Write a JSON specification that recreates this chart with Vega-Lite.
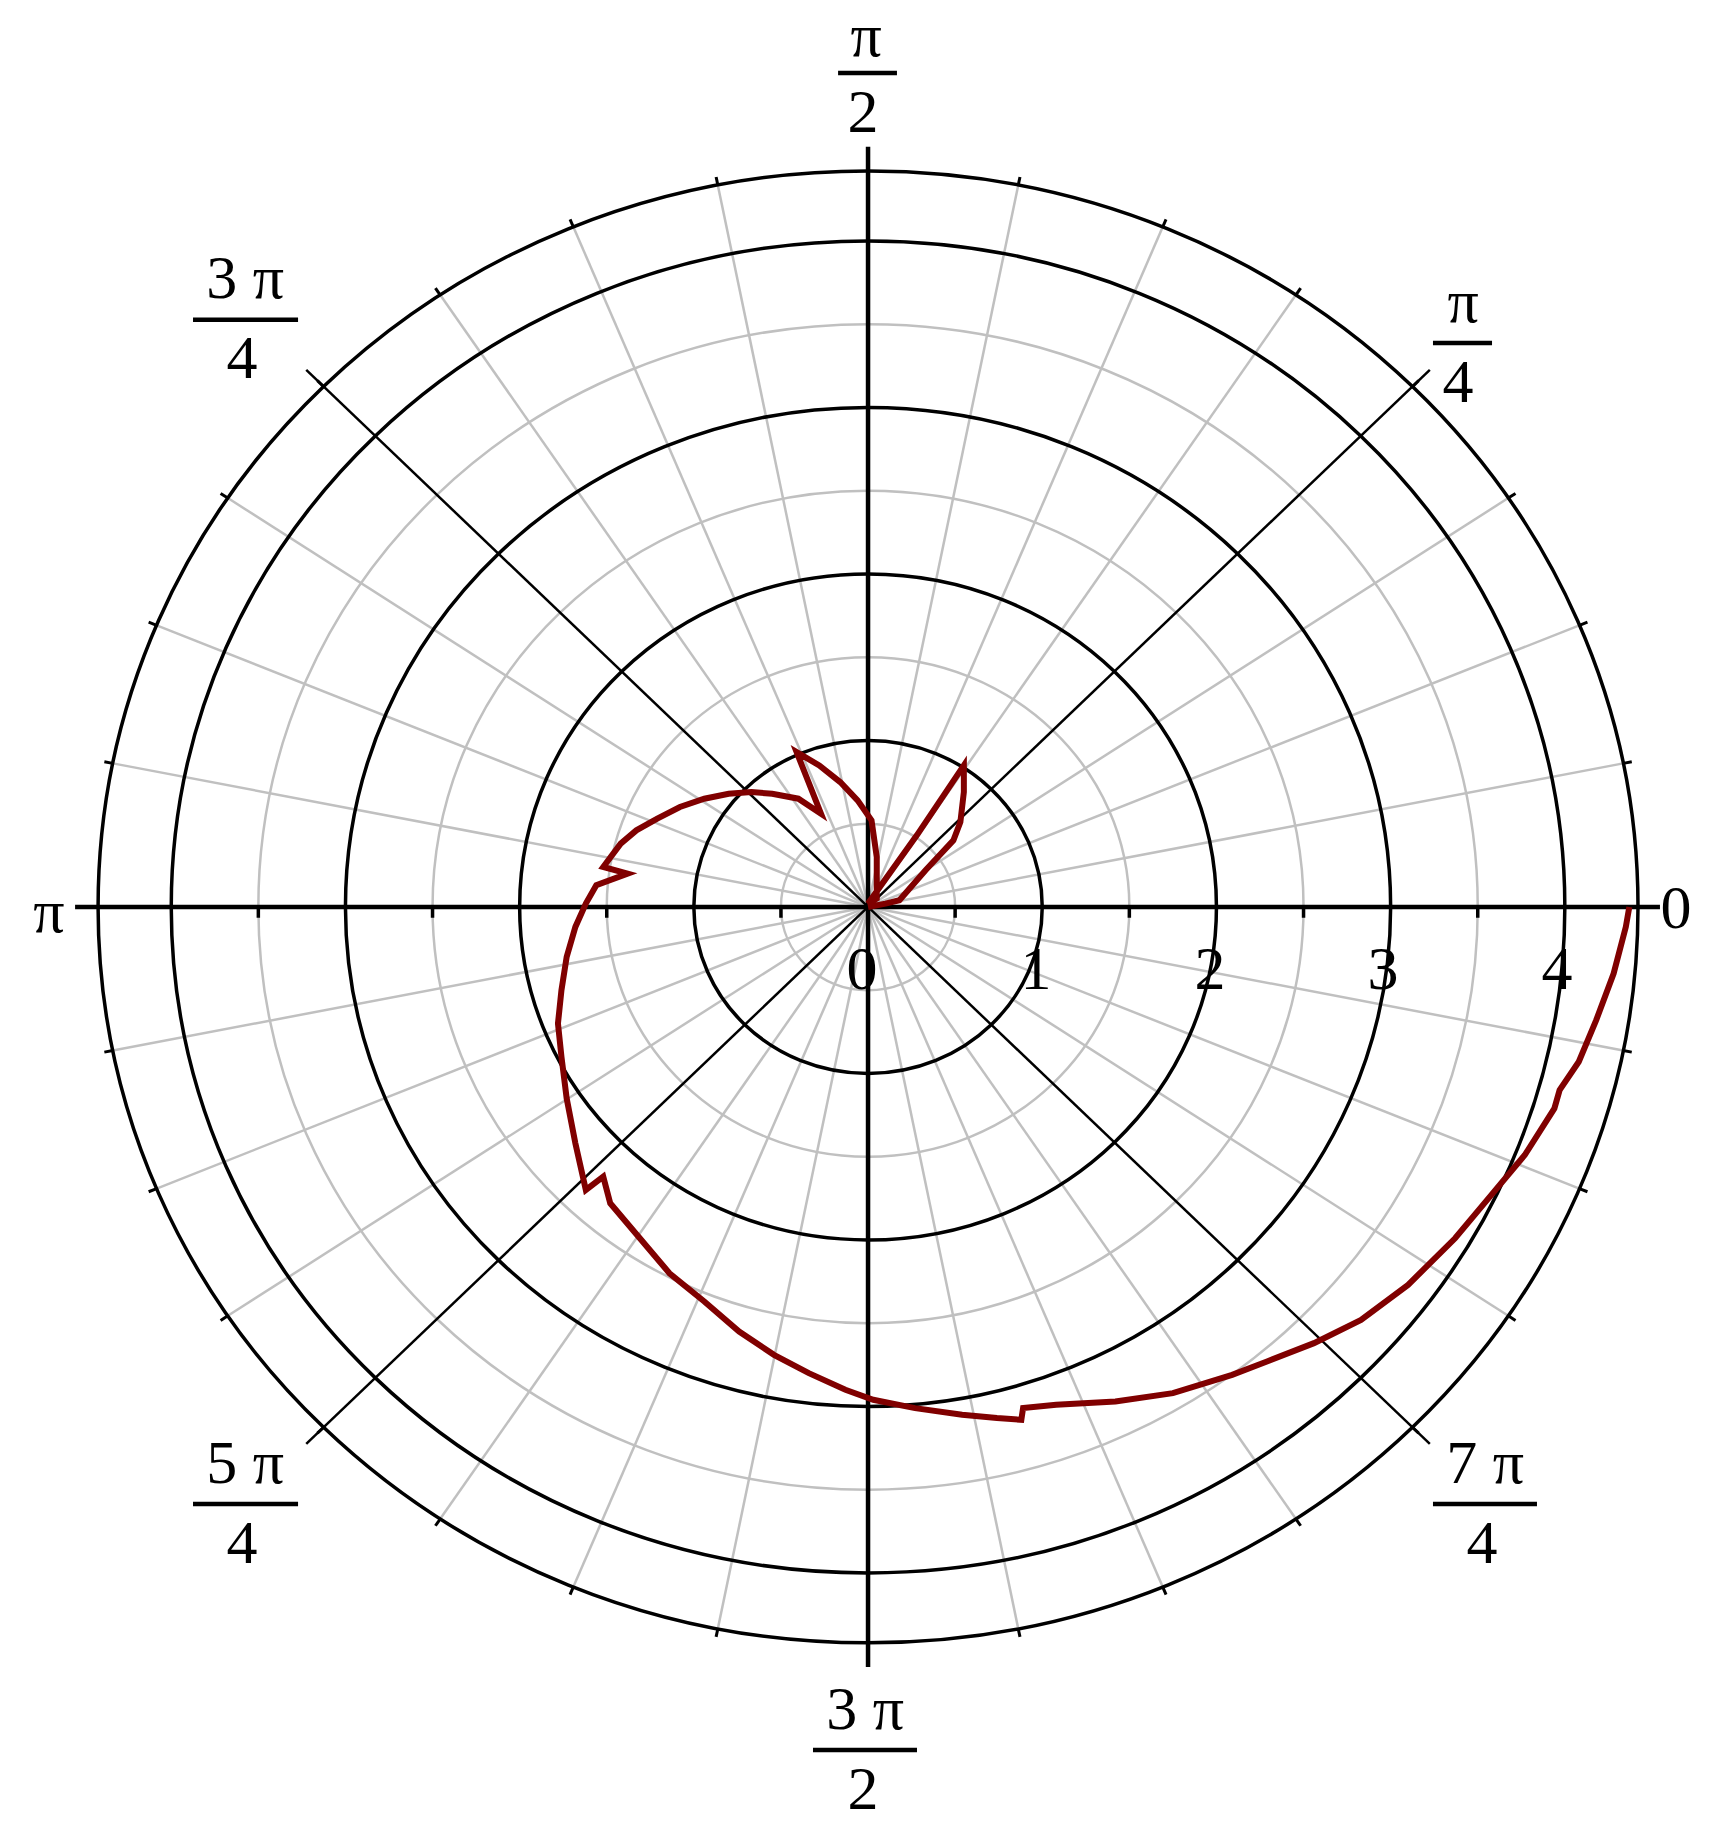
{
 "$schema": "https://vega.github.io/schema/vega-lite/v6.json",
 "width": 1711, "height": 1840,
 "autosize": {"type": "fit", "contains": "padding"},
 "padding": 0,
 "background": "white",
 "config": {"view": {"stroke": null}},
 "datasets": {
  "gcirc": [{"r": 0.5, "cx": 0, "cy": 0}, {"r": 1.5, "cx": 0, "cy": 0}, {"r": 2.5, "cx": 0, "cy": 0}, {"r": 3.5, "cx": 0, "cy": 0}],
  "bcirc": [{"r": 1, "cx": 0, "cy": 0}, {"r": 2, "cx": 0, "cy": 0}, {"r": 3, "cx": 0, "cy": 0}, {"r": 4, "cx": 0, "cy": 0}, {"r": 4.42, "cx": 0, "cy": 0}],
  "ang": [
   {"zx": 0, "zy": 0, "ix": 4.42, "iy": 0, "ox": 4.47, "oy": 0, "m": true},
   {"zx": 0, "zy": 0, "ix": 4.3351, "iy": 0.8623, "ox": 4.3841, "oy": 0.8721, "m": false},
   {"zx": 0, "zy": 0, "ix": 4.0835, "iy": 1.6914, "ox": 4.1297, "oy": 1.7106, "m": false},
   {"zx": 0, "zy": 0, "ix": 3.6751, "iy": 2.4556, "ox": 3.7167, "oy": 2.4834, "m": false},
   {"zx": 0, "zy": 0, "ix": 3.1254, "iy": 3.1254, "ox": 3.1608, "oy": 3.1608, "m": true},
   {"zx": 0, "zy": 0, "ix": 2.4556, "iy": 3.6751, "ox": 2.4834, "oy": 3.7167, "m": false},
   {"zx": 0, "zy": 0, "ix": 1.6914, "iy": 4.0835, "ox": 1.7106, "oy": 4.1297, "m": false},
   {"zx": 0, "zy": 0, "ix": 0.8623, "iy": 4.3351, "ox": 0.8721, "oy": 4.3841, "m": false},
   {"zx": 0, "zy": 0, "ix": 0, "iy": 4.42, "ox": 0, "oy": 4.47, "m": true},
   {"zx": 0, "zy": 0, "ix": -0.8623, "iy": 4.3351, "ox": -0.8721, "oy": 4.3841, "m": false},
   {"zx": 0, "zy": 0, "ix": -1.6914, "iy": 4.0835, "ox": -1.7106, "oy": 4.1297, "m": false},
   {"zx": 0, "zy": 0, "ix": -2.4556, "iy": 3.6751, "ox": -2.4834, "oy": 3.7167, "m": false},
   {"zx": 0, "zy": 0, "ix": -3.1254, "iy": 3.1254, "ox": -3.1608, "oy": 3.1608, "m": true},
   {"zx": 0, "zy": 0, "ix": -3.6751, "iy": 2.4556, "ox": -3.7167, "oy": 2.4834, "m": false},
   {"zx": 0, "zy": 0, "ix": -4.0835, "iy": 1.6914, "ox": -4.1297, "oy": 1.7106, "m": false},
   {"zx": 0, "zy": 0, "ix": -4.3351, "iy": 0.8623, "ox": -4.3841, "oy": 0.8721, "m": false},
   {"zx": 0, "zy": 0, "ix": -4.42, "iy": 0, "ox": -4.47, "oy": 0, "m": true},
   {"zx": 0, "zy": 0, "ix": -4.3351, "iy": -0.8623, "ox": -4.3841, "oy": -0.8721, "m": false},
   {"zx": 0, "zy": 0, "ix": -4.0835, "iy": -1.6914, "ox": -4.1297, "oy": -1.7106, "m": false},
   {"zx": 0, "zy": 0, "ix": -3.6751, "iy": -2.4556, "ox": -3.7167, "oy": -2.4834, "m": false},
   {"zx": 0, "zy": 0, "ix": -3.1254, "iy": -3.1254, "ox": -3.1608, "oy": -3.1608, "m": true},
   {"zx": 0, "zy": 0, "ix": -2.4556, "iy": -3.6751, "ox": -2.4834, "oy": -3.7167, "m": false},
   {"zx": 0, "zy": 0, "ix": -1.6914, "iy": -4.0835, "ox": -1.7106, "oy": -4.1297, "m": false},
   {"zx": 0, "zy": 0, "ix": -0.8623, "iy": -4.3351, "ox": -0.8721, "oy": -4.3841, "m": false},
   {"zx": 0, "zy": 0, "ix": 0, "iy": -4.42, "ox": 0, "oy": -4.47, "m": true},
   {"zx": 0, "zy": 0, "ix": 0.8623, "iy": -4.3351, "ox": 0.8721, "oy": -4.3841, "m": false},
   {"zx": 0, "zy": 0, "ix": 1.6914, "iy": -4.0835, "ox": 1.7106, "oy": -4.1297, "m": false},
   {"zx": 0, "zy": 0, "ix": 2.4556, "iy": -3.6751, "ox": 2.4834, "oy": -3.7167, "m": false},
   {"zx": 0, "zy": 0, "ix": 3.1254, "iy": -3.1254, "ox": 3.1608, "oy": -3.1608, "m": true},
   {"zx": 0, "zy": 0, "ix": 3.6751, "iy": -2.4556, "ox": 3.7167, "oy": -2.4834, "m": false},
   {"zx": 0, "zy": 0, "ix": 4.0835, "iy": -1.6914, "ox": 4.1297, "oy": -1.7106, "m": false},
   {"zx": 0, "zy": 0, "ix": 4.3351, "iy": -0.8623, "ox": 4.3841, "oy": -0.8721, "m": false}
  ],
  "lines": [
   {"x1": 0, "y1": 0, "x2": 3.225, "y2": 3.225, "w": "thin"},
   {"x1": 0, "y1": 0, "x2": -3.225, "y2": 3.225, "w": "thin"},
   {"x1": 0, "y1": 0, "x2": -3.225, "y2": -3.225, "w": "thin"},
   {"x1": 0, "y1": 0, "x2": 3.225, "y2": -3.225, "w": "thin"},
   {"x1": -4.552, "y1": 0, "x2": 4.546, "y2": 0, "w": "thick"},
   {"x1": 0, "y1": 4.565, "x2": 0, "y2": -4.565, "w": "thick"}
  ],
  "halfticks": [
   {"x": -3.5, "y1": 0, "y2": -0.065}, {"x": -2.5, "y1": 0, "y2": -0.065}, {"x": -1.5, "y1": 0, "y2": -0.065}, {"x": -0.5, "y1": 0, "y2": -0.065},
   {"x": 0.5, "y1": 0, "y2": -0.065}, {"x": 1.5, "y1": 0, "y2": -0.065}, {"x": 2.5, "y1": 0, "y2": -0.065}, {"x": 3.5, "y1": 0, "y2": -0.065}
  ],
  "bars": [
   {"x1": -0.172, "x2": 0.166, "y": 5.009},
   {"x1": 3.243, "x2": 3.582, "y": 3.387},
   {"x1": -3.875, "x2": -3.272, "y": 3.526},
   {"x1": -3.875, "x2": -3.272, "y": -3.586},
   {"x1": 3.243, "x2": 3.840, "y": -3.586},
   {"x1": -0.316, "x2": 0.281, "y": -5.063}
  ],
  "labels": [
   {"t": "π", "x": -0.011, "y": 5.111},
   {"t": "2", "x": -0.029, "y": 4.655},
   {"t": "π", "x": 3.416, "y": 3.514},
   {"t": "4", "x": 3.387, "y": 3.033},
   {"t": "3 π", "x": -3.576, "y": 3.658},
   {"t": "4", "x": -3.594, "y": 3.177},
   {"t": "π", "x": -4.702, "y": -0.150},
   {"t": "0", "x": 4.638, "y": -0.126},
   {"t": "5 π", "x": -3.576, "y": -3.459},
   {"t": "4", "x": -3.594, "y": -3.940},
   {"t": "7 π", "x": 3.542, "y": -3.459},
   {"t": "4", "x": 3.525, "y": -3.940},
   {"t": "3 π", "x": -0.017, "y": -4.937},
   {"t": "2", "x": -0.029, "y": -5.417},
   {"t": "0", "x": -0.034, "y": -0.4925},
   {"t": "1", "x": 0.964, "y": -0.4925},
   {"t": "2", "x": 1.963, "y": -0.4925},
   {"t": "3", "x": 2.956, "y": -0.4925},
   {"t": "4", "x": 3.955, "y": -0.4925}
  ],
  "curve": [
   {"i": 0, "x": 0.00, "y": 0.00}, {"i": 1, "x": 0.10, "y": 0.02}, {"i": 2, "x": 0.18, "y": 0.04},
   {"i": 3, "x": 0.33, "y": 0.22}, {"i": 4, "x": 0.49, "y": 0.40}, {"i": 5, "x": 0.53, "y": 0.51},
   {"i": 6, "x": 0.55, "y": 0.69}, {"i": 7, "x": 0.55, "y": 0.85}, {"i": 8, "x": 0.28, "y": 0.43},
   {"i": 9, "x": 0.00, "y": 0.02}, {"i": 10, "x": 0.05, "y": 0.05}, {"i": 11, "x": 0.05, "y": 0.30},
   {"i": 12, "x": 0.02, "y": 0.52}, {"i": 13, "x": -0.06, "y": 0.64}, {"i": 14, "x": -0.16, "y": 0.75},
   {"i": 15, "x": -0.28, "y": 0.85}, {"i": 16, "x": -0.41, "y": 0.93}, {"i": 17, "x": -0.27, "y": 0.56},
   {"i": 18, "x": -0.40, "y": 0.65}, {"i": 19, "x": -0.55, "y": 0.68}, {"i": 20, "x": -0.67, "y": 0.69},
   {"i": 21, "x": -0.80, "y": 0.68}, {"i": 22, "x": -0.94, "y": 0.65}, {"i": 23, "x": -1.08, "y": 0.60},
   {"i": 24, "x": -1.21, "y": 0.53}, {"i": 25, "x": -1.33, "y": 0.46}, {"i": 26, "x": -1.42, "y": 0.38},
   {"i": 27, "x": -1.52, "y": 0.24}, {"i": 28, "x": -1.38, "y": 0.20}, {"i": 29, "x": -1.56, "y": 0.13},
   {"i": 30, "x": -1.62, "y": 0.02}, {"i": 31, "x": -1.68, "y": -0.12}, {"i": 32, "x": -1.73, "y": -0.30},
   {"i": 33, "x": -1.76, "y": -0.50}, {"i": 34, "x": -1.78, "y": -0.70}, {"i": 35, "x": -1.76, "y": -0.90},
   {"i": 36, "x": -1.73, "y": -1.15}, {"i": 37, "x": -1.68, "y": -1.42}, {"i": 38, "x": -1.62, "y": -1.70},
   {"i": 39, "x": -1.52, "y": -1.62}, {"i": 40, "x": -1.48, "y": -1.78}, {"i": 41, "x": -1.31, "y": -1.99},
   {"i": 42, "x": -1.14, "y": -2.20}, {"i": 43, "x": -0.94, "y": -2.37}, {"i": 44, "x": -0.74, "y": -2.55},
   {"i": 45, "x": -0.54, "y": -2.69}, {"i": 46, "x": -0.34, "y": -2.80}, {"i": 47, "x": -0.13, "y": -2.90},
   {"i": 48, "x": 0.03, "y": -2.96}, {"i": 49, "x": 0.27, "y": -3.01}, {"i": 50, "x": 0.54, "y": -3.05},
   {"i": 51, "x": 0.74, "y": -3.07}, {"i": 52, "x": 0.88, "y": -3.08}, {"i": 53, "x": 0.89, "y": -3.01},
   {"i": 54, "x": 1.08, "y": -2.99}, {"i": 55, "x": 1.42, "y": -2.97}, {"i": 56, "x": 1.75, "y": -2.92},
   {"i": 57, "x": 2.09, "y": -2.81}, {"i": 58, "x": 2.29, "y": -2.73}, {"i": 59, "x": 2.56, "y": -2.62},
   {"i": 60, "x": 2.83, "y": -2.48}, {"i": 61, "x": 3.10, "y": -2.27}, {"i": 62, "x": 3.37, "y": -1.99},
   {"i": 63, "x": 3.57, "y": -1.74}, {"i": 64, "x": 3.77, "y": -1.49}, {"i": 65, "x": 3.94, "y": -1.21},
   {"i": 66, "x": 3.97, "y": -1.10}, {"i": 67, "x": 4.08, "y": -0.93}, {"i": 68, "x": 4.18, "y": -0.68},
   {"i": 69, "x": 4.28, "y": -0.40}, {"i": 70, "x": 4.35, "y": -0.12}, {"i": 71, "x": 4.37, "y": 0.00}
  ]
 },
 "layer": [
  {
   "data": {"name": "gcirc"},
   "mark": {"type": "point", "shape": "M 1 0 C 1 0.5279 0.5523 0.9558 0 0.9558 C -0.5523 0.9558 -1 0.5279 -1 0 C -1 -0.5279 -0.5523 -0.9558 0 -0.9558 C 0.5523 -0.9558 1 -0.5279 1 0 Z", "filled": false, "stroke": "#c0c0c0", "strokeWidth": 2.5, "opacity": 1},
   "encoding": {
    "x": {"field": "cx", "type": "quantitative", "scale": {"domain": [-4.983, 4.839], "nice": false, "zero": false}, "axis": null},
    "y": {"field": "cy", "type": "quantitative", "scale": {"domain": [-5.604, 5.447], "nice": false, "zero": false}, "axis": null},
    "size": {"field": "r", "type": "quantitative", "scale": {"type": "pow", "exponent": 2, "domain": [0, 1], "range": [0, 121382.6], "clamp": false}, "legend": null}
   }
  },
  {
   "data": {"name": "ang"},
   "transform": [{"filter": {"field": "m", "equal": false}}],
   "mark": {"type": "rule", "stroke": "#c0c0c0", "strokeWidth": 2.5},
   "encoding": {
    "x": {"field": "zx", "type": "quantitative"},
    "y": {"field": "zy", "type": "quantitative"},
    "x2": {"field": "ix"},
    "y2": {"field": "iy"}
   }
  },
  {
   "data": {"name": "bcirc"},
   "mark": {"type": "point", "shape": "M 1 0 C 1 0.5279 0.5523 0.9558 0 0.9558 C -0.5523 0.9558 -1 0.5279 -1 0 C -1 -0.5279 -0.5523 -0.9558 0 -0.9558 C 0.5523 -0.9558 1 -0.5279 1 0 Z", "filled": false, "stroke": "#000000", "strokeWidth": 3.5, "opacity": 1},
   "encoding": {
    "x": {"field": "cx", "type": "quantitative"},
    "y": {"field": "cy", "type": "quantitative"},
    "size": {"field": "r", "type": "quantitative", "scale": {"type": "pow", "exponent": 2, "domain": [0, 1], "range": [0, 121382.6], "clamp": false}, "legend": null}
   }
  },
  {
   "data": {"name": "lines"},
   "mark": {"type": "rule", "stroke": "#000000"},
   "encoding": {
    "x": {"field": "x1", "type": "quantitative"},
    "y": {"field": "y1", "type": "quantitative"},
    "x2": {"field": "x2"},
    "y2": {"field": "y2"},
    "strokeWidth": {"field": "w", "type": "nominal", "scale": {"domain": ["thin", "thick"], "range": [2.5, 4.5]}, "legend": null}
   }
  },
  {
   "data": {"name": "ang"},
   "mark": {"type": "rule", "stroke": "#000000", "strokeWidth": 3},
   "encoding": {
    "x": {"field": "ix", "type": "quantitative"},
    "y": {"field": "iy", "type": "quantitative"},
    "x2": {"field": "ox"},
    "y2": {"field": "oy"}
   }
  },
  {
   "data": {"name": "halfticks"},
   "mark": {"type": "rule", "stroke": "#000000", "strokeWidth": 3.5},
   "encoding": {
    "x": {"field": "x", "type": "quantitative"},
    "y": {"field": "y1", "type": "quantitative"},
    "y2": {"field": "y2"}
   }
  },
  {
   "data": {"name": "bars"},
   "mark": {"type": "rule", "stroke": "#000000", "strokeWidth": 4.5},
   "encoding": {
    "x": {"field": "x1", "type": "quantitative"},
    "x2": {"field": "x2"},
    "y": {"field": "y", "type": "quantitative"}
   }
  },
  {
   "data": {"name": "curve"},
   "mark": {"type": "line", "stroke": "#800000", "strokeWidth": 6, "strokeJoin": "miter"},
   "encoding": {
    "x": {"field": "x", "type": "quantitative"},
    "y": {"field": "y", "type": "quantitative"},
    "order": {"field": "i", "type": "quantitative"}
   }
  },
  {
   "data": {"name": "labels"},
   "mark": {"type": "text", "font": "Liberation Serif", "fontSize": 62, "align": "center", "baseline": "alphabetic", "color": "#000000"},
   "encoding": {
    "x": {"field": "x", "type": "quantitative"},
    "y": {"field": "y", "type": "quantitative"},
    "text": {"field": "t"}
   }
  }
 ]
}
